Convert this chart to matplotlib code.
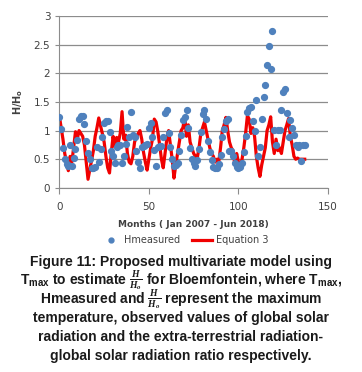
import numpy as np
import matplotlib
matplotlib.use("Agg")
import matplotlib.pyplot as plt

# observed H/Ho (Jan 2007 - Jun 2018)
h_measured = [
    1.24, 1.02, 0.70, 0.50, 0.41, 0.39, 0.74, 0.39, 0.52, 0.68, 0.84, 1.21,
    1.25, 1.26, 1.11, 0.82, 0.60, 0.50, 0.34, 0.34, 0.36, 0.72, 0.45, 0.67,
    0.89, 1.13, 1.16, 1.17, 0.98, 0.65, 0.55, 0.43, 0.72, 0.74, 0.74, 0.43,
    0.56, 0.77, 1.07, 0.89, 1.33, 0.92, 0.89, 0.65, 0.45, 0.34, 0.72, 0.73,
    0.74, 0.77, 1.04, 1.13, 0.89, 0.66, 0.39, 0.72, 0.73, 0.73, 0.89, 1.30,
    1.36,
    0.95, 0.72, 0.50, 0.39, 0.40, 0.44, 0.65, 0.92, 1.19, 1.23, 1.36, 1.04,
    0.70, 0.50, 0.43, 0.39, 0.49, 0.68, 0.97, 1.29, 1.36, 1.20, 0.81, 0.62,
    0.49, 0.37, 0.34, 0.34, 0.42, 0.57, 0.89, 1.02, 1.16, 1.20, 0.64, 0.65,
    0.55, 0.44, 0.37, 0.34, 0.37, 0.44, 0.62, 0.91, 1.33, 1.39, 1.41, 1.17,
    0.99, 1.54, 0.55, 0.72, 1.20, 1.59, 1.80, 2.15, 2.48, 2.07, 2.74, 1.01,
    0.74, 1.01, 1.01, 1.36, 1.67, 1.72, 1.31, 0.89, 1.19, 1.04, 0.92, 0.74,
    0.72, 0.74, 0.47, 0.74, 0.74,
]

# model estimate (Equation 3)
equation3 = [
    1.25, 1.05, 0.85, 0.60, 0.45, 0.30, 0.55, 0.45, 0.72, 0.98, 0.85, 1.00,
    0.95, 0.90, 0.75, 0.45, 0.15, 0.32, 0.50, 0.65, 0.90, 1.05, 1.22, 1.08,
    0.95, 0.80, 0.55, 0.35, 0.26, 0.62, 0.90, 0.72, 0.88, 0.80, 0.95, 1.33,
    0.85, 0.92, 0.60, 0.45, 0.42, 0.55, 0.80, 0.88, 0.95, 1.00, 0.85, 0.62,
    0.45, 0.31, 0.50, 0.70, 0.85, 1.20, 1.15, 0.98, 0.75, 0.50, 0.35, 0.60,
    0.85,
    1.00, 0.75, 0.50, 0.17, 0.40, 0.60, 0.80, 1.00, 1.05, 1.24, 0.90, 1.10,
    0.80, 0.70, 0.60, 0.55, 0.52, 0.70, 0.95, 1.05, 1.15, 1.00, 0.85, 0.70,
    0.60, 0.55, 0.45, 0.50, 0.45, 0.70, 1.00, 1.10, 1.23, 1.00, 0.80, 0.70,
    0.65, 0.40, 0.60, 0.45, 0.35, 0.50, 0.70, 0.95, 1.26, 1.20, 0.95, 1.05,
    0.90, 0.55, 0.35, 0.20, 0.40, 0.55, 0.70, 1.00, 1.10, 1.24, 0.80, 0.60,
    0.85, 0.65, 0.70, 0.60, 0.80, 1.00, 1.10, 1.21, 0.90, 0.75, 0.55, 0.50,
    0.52, 0.50, 0.50, 0.50, 0.50,
]
months = np.arange(len(h_measured))

x_ticks = [0, 50, 100, 150]
y_ticks = [0, 0.5, 1, 1.5, 2, 2.5, 3]

plt.rcParams['mathtext.fontset'] = 'custom'
plt.rcParams['mathtext.rm'] = 'Liberation Sans:bold'
plt.rcParams['mathtext.it'] = 'Liberation Serif:italic:bold'

fig = plt.figure(figsize=(3.62, 3.72), dpi=100)
ax = fig.add_axes([0.164, 0.495, 0.742, 0.462])

ax.plot(months, h_measured, 'o', color='#4F81BD', markersize=4.2, zorder=3)
ax.plot(months[:len(equation3)], equation3, '-', color='#F00000', lw=2.3, zorder=2)

ax.set_xlim(0, 150)
ax.set_ylim(0, 3)
ax.set_xticks(x_ticks)
ax.set_yticks(y_ticks)
ax.set_yticklabels(['0', '0.5', '1', '1.5', '2', '2.5', '3'])
ax.yaxis.grid(True, color='#8c8c8c', lw=0.9)
ax.set_axisbelow(True)
for s in ['top', 'right']:
    ax.spines[s].set_visible(False)
for s in ['left', 'bottom']:
    ax.spines[s].set_color('#8c8c8c')
ax.tick_params(axis='both', labelsize=7.5, colors='#404040')
ax.tick_params(axis='y', length=3, color='#8c8c8c')
ax.tick_params(axis='x', length=4, color='#8c8c8c', pad=6)

ax.set_xlabel('Months ( Jan 2007 - Jun 2018)', fontsize=6.5, fontweight='bold', color='#404040', labelpad=6)
ax.set_ylabel('H/H$_\\mathregular{o}$', fontsize=7, fontweight='bold', color='#404040', labelpad=6)

h1, = ax.plot([], [], 'o', color='#4F81BD', markersize=3.5)
h2, = ax.plot([], [], '-', color='#F00000', lw=2.3)
fig.legend([h1, h2], ['Hmeasured', 'Equation 3'], loc='center', bbox_to_anchor=(0.51, 0.355),
           ncol=2, frameon=False, fontsize=7, handlelength=2.0, columnspacing=1.2,
           handletextpad=0.4, labelcolor='#404040')

caption = [
    (0.296, 'Figure 11: Proposed multivariate model using'),
    (0.247, 'T$_{\\mathrm{max}}$ to estimate $\\frac{H}{H_o}$ for Bloemfontein, where T$_{\\mathrm{max}}$,'),
    (0.195, 'Hmeasured and $\\frac{H}{H_o}$ represent the maximum'),
    (0.145, 'temperature, observed values of global solar'),
    (0.094, 'radiation and the extra-terrestrial radiation-'),
    (0.043, 'global solar radiation ratio respectively.'),
]
for y, line in caption:
    fig.text(0.5, y, line, ha='center', va='center', fontsize=10.0,
             family='Liberation Sans', fontweight='bold', color='#1a1a1a')

fig.savefig('out.png', dpi=100)
